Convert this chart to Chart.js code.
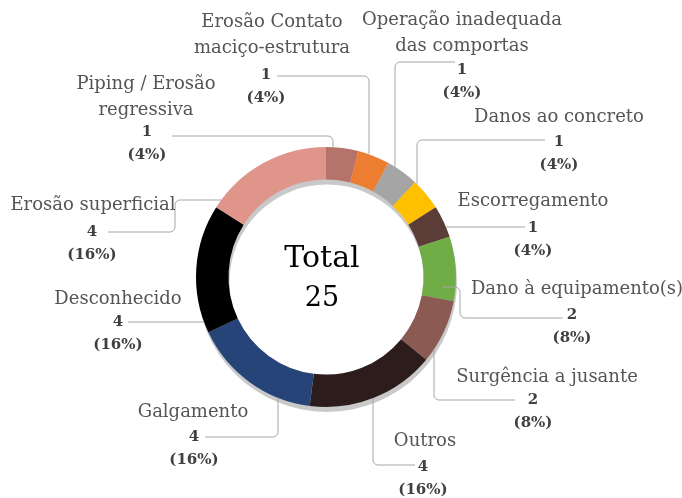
<!DOCTYPE html>
<html>
<head>
<meta charset="utf-8">
<script src="https://cdn.jsdelivr.net/npm/chart.js@4"></script>
<style>
  html, body { margin: 0; background: #fff; }
  #wrap { width: 682px; height: 498px; }
</style>
</head>
<body>
<div id="wrap"><canvas id="chart"></canvas></div>
<script>
const categories = [
    ['Piping / Erosão', 'regressiva'],
    ['Erosão Contato', 'maciço-estrutura'],
    ['Operação inadequada', 'das comportas'],
    ['Danos ao concreto'],
    ['Escorregamento'],
    ['Dano à equipamento(s)'],
    ['Surgência a jusante'],
    ['Outros'],
    ['Galgamento'],
    ['Desconhecido'],
    ['Erosão superficial']
];
const counts = [1, 1, 1, 1, 1, 2, 2, 4, 4, 4, 4];
const sliceColors = ['#b6736b', '#ed7d31', '#a5a5a5', '#ffc000', '#5b3c37', '#70ad47',
                     '#8b5a52', '#2d1c1c', '#264478', '#000000', '#e0958b'];

// where each slice's label sits, and the elbow points of its leader line
// (pts run from the label towards the ring; the last leg goes 'v'ertical or 'h'orizontal to the ring)
const labelLayout = [
    { name: [146, 84],  val: [147, 132], pts: [[172, 136], [333, 136]], dir: 'v' },
    { name: [272, 22],  val: [266, 75],  pts: [[277, 76], [369, 76]], dir: 'v' },
    { name: [462, 20],  val: [462, 70],  pts: [[455, 62], [395, 62]], dir: 'v' },
    { name: [559, 117], val: [559, 142], pts: [[545, 140], [417, 140]], dir: 'v' },
    { name: [533, 201], val: [533, 228], pts: [[525, 227]], dir: 'h' },
    { name: [577, 289], val: [572, 315], pts: [[563, 318], [460, 318], [460, 287]], dir: 'h', inset: 13 },
    { name: [547, 377], val: [533, 400], pts: [[515, 400], [434, 400]], dir: 'v' },
    { name: [425, 441], val: [423, 467], pts: [[415, 465], [373, 465]], dir: 'v' },
    { name: [193, 412], val: [194, 437], pts: [[205, 437], [278, 437]], dir: 'v' },
    { name: [118, 299], val: [118, 322], pts: [[128, 322]], dir: 'h' },
    { name: [93, 205],  val: [92, 232],  pts: [[108, 232], [175, 232], [175, 200]], dir: 'h' }
];

const total = counts.reduce((a, b) => a + b, 0);
const FONT = '"DejaVu Serif", "Liberation Serif", serif';

// grey drop shadow under the ring
const ringShadow = {
    id: 'ringShadow',
    beforeDatasetsDraw(chart) {
        const arc = chart.getDatasetMeta(0).data[0];
        const ctx = chart.ctx;
        ctx.save();
        ctx.fillStyle = '#c9c9c9';
        ctx.beginPath();
        ctx.arc(arc.x + 1, arc.y + 5, arc.outerRadius, 0, Math.PI * 2);
        ctx.arc(arc.x + 1, arc.y + 5, arc.innerRadius, 0, Math.PI * 2, true);
        ctx.fill();
        ctx.restore();
    }
};

// centre text plus the callout labels
const calloutLabels = {
    id: 'calloutLabels',
    afterDatasetsDraw(chart) {
        const meta = chart.getDatasetMeta(0);
        const ctx = chart.ctx;
        const cx = meta.data[0].x, cy = meta.data[0].y;
        const R = meta.data[0].outerRadius;

        ctx.save();
        ctx.textAlign = 'center';
        ctx.textBaseline = 'middle';
        ctx.fillStyle = '#000';
        ctx.font = '30px ' + FONT;
        ctx.fillText('Total', cx - 4, cy - 18);
        ctx.font = '27px ' + FONT;
        ctx.fillText(String(total), cx - 4, cy + 22);

        labelLayout.forEach((lay, i) => {
            const r = R - (lay.inset || 0);
            const last = lay.pts[lay.pts.length - 1];
            let end;
            if (lay.dir === 'v') {
                const dx = last[0] - cx;
                const off = Math.sqrt(Math.max(r * r - dx * dx, 0));
                end = [last[0], last[1] < cy ? cy - off : cy + off];
            } else {
                const dy = last[1] - cy;
                const off = Math.sqrt(Math.max(r * r - dy * dy, 0));
                end = [last[0] < cx ? cx - off : cx + off, last[1]];
            }
            const path = lay.pts.concat([end]);
            ctx.strokeStyle = '#a6a6a6';
            ctx.lineWidth = 1;
            ctx.beginPath();
            ctx.moveTo(path[0][0], path[0][1]);
            for (let k = 1; k < path.length - 1; k++) {
                ctx.arcTo(path[k][0], path[k][1], path[k + 1][0], path[k + 1][1], 5);
            }
            ctx.lineTo(end[0], end[1]);
            ctx.stroke();

            ctx.fillStyle = '#555';
            ctx.font = '18px ' + FONT;
            categories[i].forEach((line, j) => {
                ctx.fillText(line, lay.name[0], lay.name[1] + j * 26);
            });
            ctx.fillStyle = '#404040';
            ctx.font = 'bold 15px ' + FONT;
            ctx.fillText(String(counts[i]), lay.val[0], lay.val[1]);
            ctx.fillText('(' + Math.round(counts[i] / total * 100) + '%)', lay.val[0], lay.val[1] + 23);
        });
        ctx.restore();
    }
};

new Chart(document.getElementById('chart'), {
    type: 'doughnut',
    data: {
        labels: categories.map(c => c.join(' ')),
        datasets: [{
            data: counts,
            backgroundColor: sliceColors,
            borderWidth: 0
        }]
    },
    options: {
        responsive: true,
        maintainAspectRatio: false,
        animation: false,
        cutout: '75%',
        layout: { padding: { left: 196, right: 226, top: 147, bottom: 91 } },
        plugins: {
            legend: { display: false },
            tooltip: { enabled: false }
        }
    },
    plugins: [ringShadow, calloutLabels]
});
</script>
</body>
</html>
